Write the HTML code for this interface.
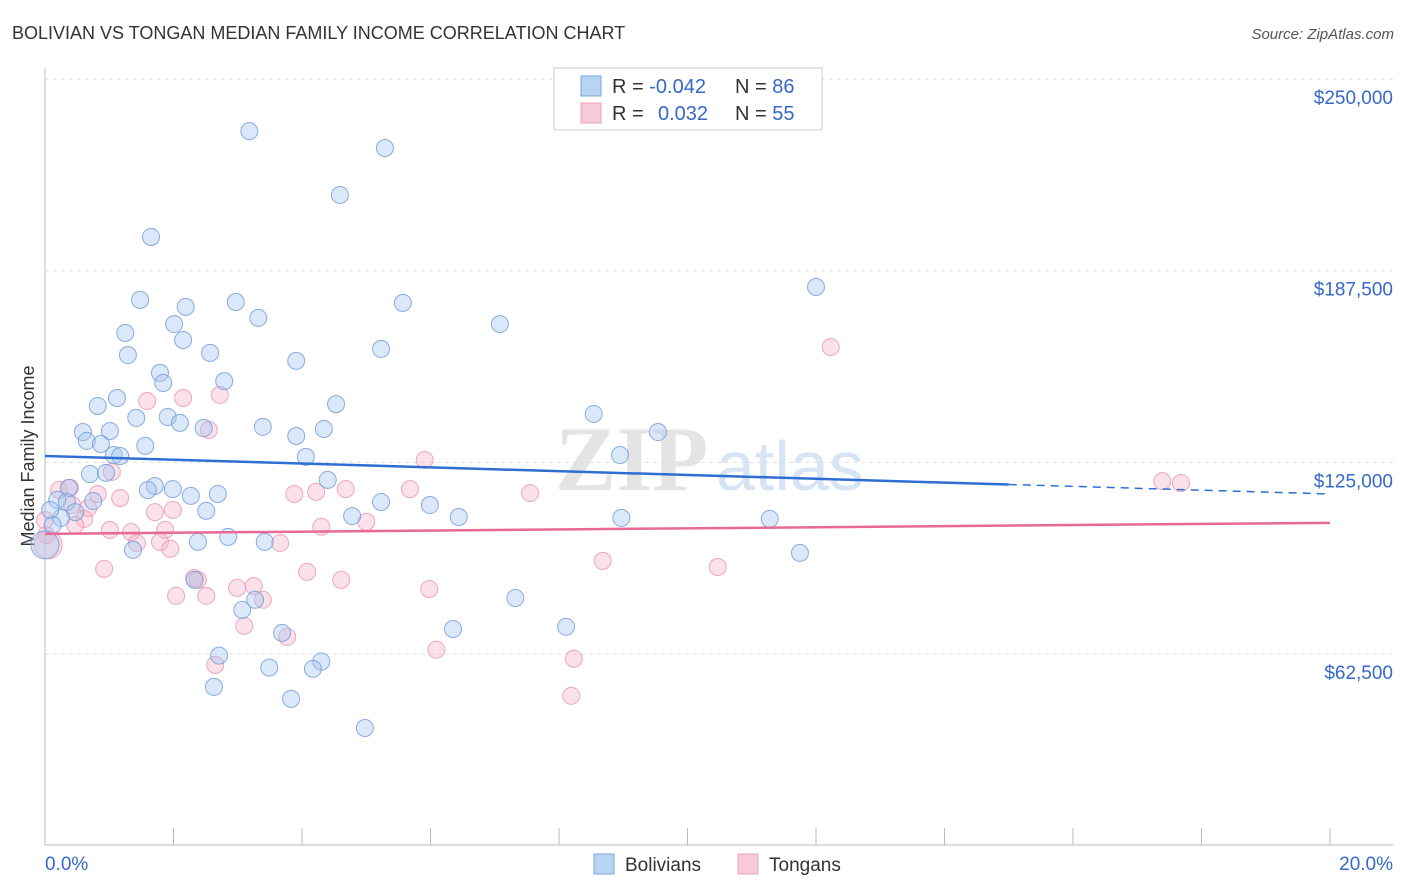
<!DOCTYPE html>
<html><head><meta charset="utf-8">
<style>
body{margin:0;background:#fff;font-family:"Liberation Sans",sans-serif;}
#wrap{position:relative;width:1406px;height:892px;overflow:hidden;}
</style></head>
<body>
<div id="wrap">
<svg id="svg" width="1406" height="892" xmlns="http://www.w3.org/2000/svg">
<text x="12" y="39" font-size="18" fill="#333">BOLIVIAN VS TONGAN MEDIAN FAMILY INCOME CORRELATION CHART</text>
<text x="1394" y="39" font-size="15" fill="#555" font-style="italic" text-anchor="end">Source: ZipAtlas.com</text>
<text transform="translate(34,456) rotate(-90)" font-size="18" fill="#333" text-anchor="middle">Median Family Income</text>
<g>
<text x="555" y="490" font-size="92" fill="#e4e4e4" font-family="Liberation Serif,serif" font-weight="bold">ZIP</text>
<text x="716" y="490" font-size="70" fill="#d6e4f4">atlas</text>
</g>
<g id="grid"></g>
<g id="axes"></g>
<g id="marks"></g>
<g>
<rect x="554" y="68" width="268" height="62" fill="#fff" stroke="#ccc"/>
<rect x="581" y="76" width="20" height="20" fill="#b9d3f4" stroke="#7ba6e0"/>
<rect x="581" y="103" width="20" height="20" fill="#f8c9d6" stroke="#eca0b8"/>
<text x="612" y="93" font-size="20" fill="#333">R = <tspan fill="#3568c8">-0.042</tspan><tspan x="735">N = </tspan><tspan fill="#3568c8">86</tspan></text>
<text x="612" y="120" font-size="20" fill="#333">R = <tspan x="658" fill="#3568c8">0.032</tspan><tspan x="735">N = </tspan><tspan fill="#3568c8">55</tspan></text>
</g>
<g>
<rect x="594" y="854" width="20" height="20" fill="#b9d3f4" stroke="#7ba6e0"/>
<text x="625" y="871" font-size="19" fill="#333">Bolivians</text>
<rect x="738" y="854" width="20" height="20" fill="#f8c9d6" stroke="#eca0b8"/>
<text x="769" y="871" font-size="19" fill="#333">Tongans</text>
</g>
</svg>
</div>
<script>
const yTicks=[250000,187500,125000,62500];
const yTickLabels=["$250,000","$187,500","$125,000","$62,500"];
const xTickLabels=["0.0%","20.0%"];
const bolX=[3.18,5.29,4.59,1.65,12.0,1.48,2.97,2.19,5.57,3.32,2.01,7.08,1.25,2.15,2.57,1.29,5.23,3.91,1.79,1.84,2.79,1.12,0.82,4.53,1.91,1.42,2.10,8.54,3.39,2.47,0.59,1.01,3.91,4.34,9.54,0.65,0.87,1.56,1.07,1.17,4.06,8.95,0.70,0.95,4.40,1.71,0.37,1.60,1.99,0.19,0.34,0.75,2.27,2.69,5.23,5.99,0.47,0.25,2.51,4.78,6.44,8.97,11.28,2.85,2.38,3.42,1.37,11.75,0,2.33,3.07,3.27,7.32,3.69,6.35,8.11,2.71,4.30,3.49,4.17,2.63,3.83,4.98,0.12,0.08];
const bolY=[233.0,227.5,212.2,198.5,182.2,178.0,177.3,175.7,177.0,172.1,170.1,170.1,167.2,164.9,160.7,160.0,162.0,158.1,154.2,150.9,151.5,146.0,143.4,144.0,139.8,139.5,137.9,140.8,136.6,136.2,134.9,135.2,133.6,135.9,134.9,132.0,131.0,130.4,127.4,127.1,126.8,127.4,121.2,121.6,119.3,117.3,116.7,116.0,116.3,112.8,112.1,112.4,114.1,114.7,112.1,111.1,108.8,106.9,109.2,107.5,107.2,106.9,106.6,100.7,99.1,99.1,96.5,95.5,98.1,86.7,76.9,80.2,80.8,69.4,70.7,71.4,62.0,60.1,58.1,57.7,51.8,47.9,38.4,104.6,109.5];
const tonX=[12.23,1.59,2.15,2.72,2.55,5.91,17.39,17.68,7.55,3.88,4.22,4.68,5.68,0.22,0.39,0.82,1.17,1.04,0.42,0.67,0.61,0.47,1.71,1.99,5.00,4.30,0,0.02,1.01,1.34,1.87,1.43,1.79,1.95,3.66,8.68,10.47,0.92,4.08,4.61,2.32,2.38,2.99,3.25,5.98,2.04,2.51,3.39,3.10,3.77,2.65,6.09,8.23,8.19,0.05];
const tonY=[162.6,145.0,146.0,147.0,135.6,125.8,118.9,118.3,115.0,114.7,115.4,116.3,116.3,116.0,116.7,114.7,113.4,121.9,111.1,110.1,106.6,104.6,108.8,109.5,105.6,104.0,106.2,101.3,103.0,102.3,103.0,98.7,99.1,96.8,98.7,92.9,90.9,90.3,89.3,86.7,87.3,86.7,84.1,84.7,83.7,81.5,81.5,80.2,71.7,68.1,59.0,63.9,61.0,48.9,98.1];
const bolTrend=[127.1,114.7];
const tonTrend=[101.7,105.3];
const NS="http://www.w3.org/2000/svg";
const X0=45,X1=1330,Y250=79,PX=191.7;
function sx(p){return X0+(X1-X0)*p/20;}
function sy(k){return Y250+(250-k)*PX/62.5;}
function mk(t,a,p){const e=document.createElementNS(NS,t);for(const k in a)e.setAttribute(k,a[k]);p.appendChild(e);return e;}
const grid=document.getElementById('grid'),axes=document.getElementById('axes'),marks=document.getElementById('marks');
yTicks.forEach((v,i)=>{const y=sy(v/1000);
const l=mk('line',{x1:X0,x2:1393,y1:y,y2:y,stroke:'#ddd','stroke-dasharray':'4,4'},grid);


const t=mk('text',{x:1393,y:y+25,'font-size':19,fill:'#3568c8','text-anchor':'end'},axes);
t.textContent=yTickLabels[i];

});
const ax=mk('line',{x1:X0,x2:X0,y1:68,y2:845,stroke:'#bbb'},axes);


const bx=mk('line',{x1:X0,x2:1393,y1:845,y2:845,stroke:'#bbb'},axes);


for(let i=0;i<=10;i++){const x=sx(i*2);
const tk=mk('line',{x1:x,x2:x,y1:828,y2:845,stroke:'#bbb'},axes);

}
[[45,'start'],[1393,'end']].forEach((o,i)=>{const t=mk('text',{x:o[0],y:870,'font-size':19,fill:'#3568c8','text-anchor':o[1]},axes);
t.textContent=xTickLabels[i];

});
function pts(xs,ys,fill,stroke,name){xs.forEach((x,i)=>{const big=(x===0&&ys[i]===98.1)||(x===0.05&&ys[i]===98.1);
const c=mk('circle',{cx:sx(x),cy:sy(ys[i]),r:big?14:8.5,fill:fill,'fill-opacity':0.4,stroke:stroke,'stroke-opacity':0.8,'stroke-width':1},marks);

});}
pts(tonX,tonY,'#f4b4c8','#eb94b0','tongans-point');
pts(bolX,bolY,'#a6c6f0','#6d9ada','bolivians-point');
function trend(v,col,name,dashFrom){
const y=p=>sy(v[0]+(v[1]-v[0])*p/20);
if(dashFrom!=null){
const a=mk('line',{x1:sx(0),y1:y(0),x2:sx(dashFrom),y2:y(dashFrom),stroke:col,'stroke-width':2.5},marks);


const b=mk('line',{x1:sx(dashFrom),y1:y(dashFrom),x2:sx(20),y2:y(20),stroke:col,'stroke-width':1.5,'stroke-dasharray':'8,6'},marks);


}else{
const a=mk('line',{x1:sx(0),y1:y(0),x2:sx(20),y2:y(20),stroke:col,'stroke-width':2.5},marks);

}}
trend(bolTrend,'#2f6fd4','bolivians-trendline',15.0);
trend(tonTrend,'#e86a94','tongans-trendline',null);
</script>
</body></html>
